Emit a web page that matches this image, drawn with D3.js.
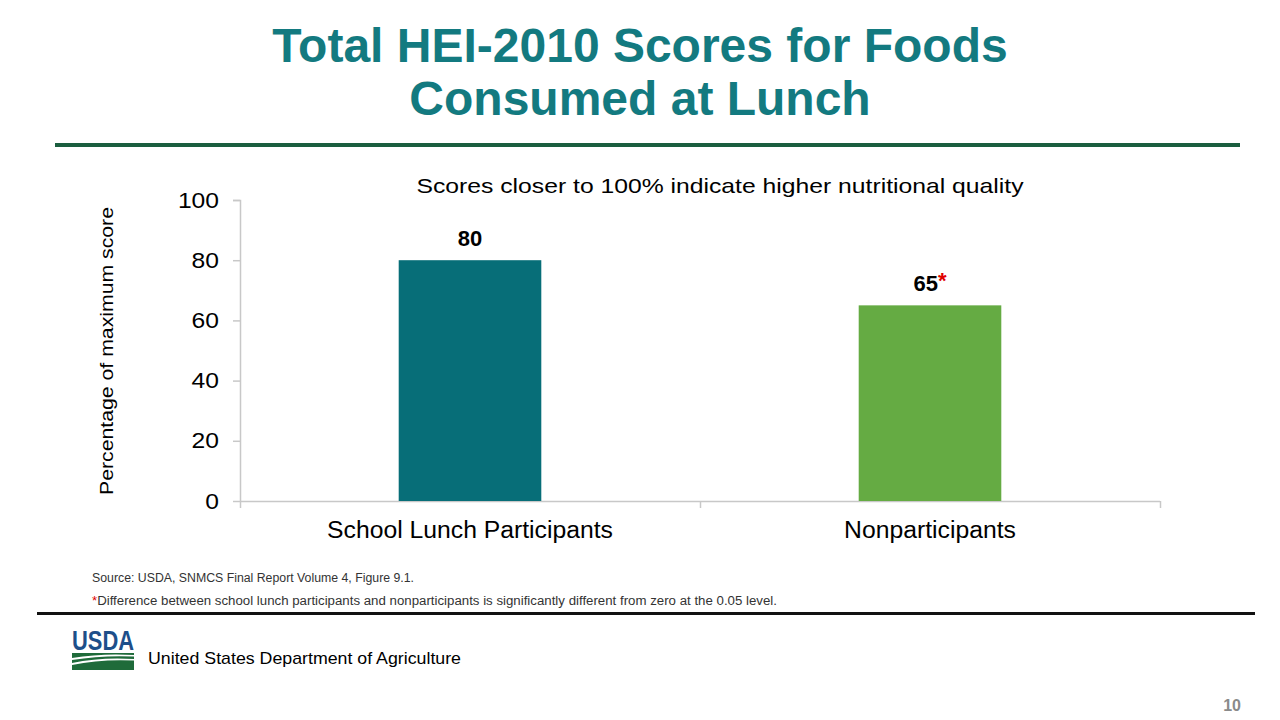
<!DOCTYPE html>
<html>
<head>
<meta charset="utf-8">
<script src="https://cdn.jsdelivr.net/npm/d3@7"></script>
<style>
  body { margin: 0; background: #fff; }
  svg { font-family: Arial, "Liberation Sans", sans-serif; }
</style>
</head>
<body>
<svg class="chart" width="1280" height="720"></svg>
<script>
// Datos
var categories = ["School Lunch Participants", "Nonparticipants"];
var values = [80, 65];
var significant = [false, true];
var barColors = ["#076e78", "#65ab43"];
var yTicks = [0, 20, 40, 60, 80, 100];

var svg = d3.select(".chart");

// estira el texto en horizontal (la diapositiva original está ensanchada)
function stretch(sel, w) {
  sel.attr("textLength", w).attr("lengthAdjust", "spacingAndGlyphs");
}
function stretchBy(sel, k) {
  sel.each(function() {
    var t = d3.select(this);
    t.attr("textLength", this.getComputedTextLength() * k).attr("lengthAdjust", "spacingAndGlyphs");
  });
}

// Título
var title = svg.append("text")
    .attr("text-anchor", "middle")
    .attr("fill", "#137a80")
    .attr("font-weight", "bold")
    .attr("font-size", 48);
title.append("tspan").attr("x", 640).attr("y", 62).text("Total HEI-2010 Scores for Foods");
title.append("tspan").attr("x", 640).attr("y", 115).text("Consumed at Lunch");

svg.append("rect")
    .attr("x", 55).attr("y", 143).attr("width", 1185).attr("height", 4)
    .attr("fill", "#1b5e3f");

// Área del gráfico
var x = d3.scaleBand()
    .domain(categories)
    .range([240, 1160])
    .paddingInner(0.69)
    .paddingOuter(0.345);

var y = d3.scaleLinear()
    .domain([0, 100])
    .range([501, 200]);

svg.append("text")
    .attr("x", 720).attr("y", 193)
    .attr("text-anchor", "middle")
    .attr("font-size", 21)
    .attr("fill", "#000")
    .text("Scores closer to 100% indicate higher nutritional quality")
    .call(stretch, 607);

// Eje Y
var yAxis = svg.append("g")
    .attr("transform", "translate(240,0)")
    .call(d3.axisLeft(y).tickValues(yTicks).tickSize(7).tickPadding(14));
yAxis.selectAll("text")
    .attr("font-size", 22).attr("fill", "#000")
    .attr("font-family", "Arial, 'Liberation Sans', sans-serif")
    .call(stretchBy, 1.12);

// Eje X (ticks en bordes de categorías)
var xb = d3.scalePoint().domain([0, 1, 2]).range([240, 1160]);
var xAxis = svg.append("g")
    .attr("transform", "translate(0,501)")
    .call(d3.axisBottom(xb).tickSize(7).tickFormat(""));
svg.selectAll(".domain, .tick line").attr("stroke", "#c8c8c8").attr("stroke-width", 1.5);
yAxis.select(".domain").attr("d", "M-7,200.5H0.5V501.5");
xAxis.select(".domain").attr("d", "M240,0.5H1160");

svg.selectAll(".xlab")
    .data(categories)
  .enter().append("text")
    .attr("class", "xlab")
    .attr("x", function(d) { return x(d) + x.bandwidth() / 2; })
    .attr("y", 538)
    .attr("text-anchor", "middle")
    .attr("font-size", 23)
    .attr("fill", "#000")
    .text(function(d) { return d; })
    .call(stretchBy, 1.075);

// Barras
svg.selectAll(".bar")
    .data(values)
  .enter().append("rect")
    .attr("class", "bar")
    .attr("x", function(d, i) { return x(categories[i]); })
    .attr("width", x.bandwidth())
    .attr("y", function(d) { return y(d); })
    .attr("height", function(d) { return y(0) - y(d); })
    .attr("fill", function(d, i) { return barColors[i]; });

var labels = svg.selectAll(".val")
    .data(values)
  .enter().append("text")
    .attr("class", "val")
    .attr("x", function(d, i) { return x(categories[i]) + x.bandwidth() / 2; })
    .attr("y", function(d) { return y(d) - 14; })
    .attr("text-anchor", "middle")
    .attr("font-size", 22)
    .attr("font-weight", "bold")
    .attr("fill", "#000");
labels.append("tspan").text(function(d) { return d; });
labels.append("tspan")
    .attr("fill", "#e00000")
    .attr("dy", -3)
    .text(function(d, i) { return significant[i] ? "*" : ""; });

// Título eje Y
svg.append("text")
    .attr("transform", "translate(113,351) rotate(-90)")
    .attr("text-anchor", "middle")
    .attr("font-size", 18)
    .attr("fill", "#000")
    .text("Percentage of maximum score")
    .call(stretch, 288);

// Notas
svg.append("text")
    .attr("x", 92).attr("y", 582)
    .attr("font-size", 12.5)
    .attr("fill", "#333")
    .text("Source: USDA, SNMCS Final Report Volume 4, Figure 9.1.")
    .call(stretch, 322);
var note = svg.append("text")
    .attr("x", 92).attr("y", 605)
    .attr("font-size", 12.5)
    .attr("fill", "#333")
    .call(stretch, 685);
note.append("tspan").attr("fill", "#e00000").text("*");
note.append("tspan").text("Difference between school lunch participants and nonparticipants is significantly different from zero at the 0.05 level.");

svg.append("rect")
    .attr("x", 37).attr("y", 612).attr("width", 1218).attr("height", 3)
    .attr("fill", "#111");

// Logo USDA
var logo = svg.append("g").attr("transform", "translate(72,628)");
logo.append("text")
    .attr("x", 0).attr("y", 22)
    .attr("font-size", 28)
    .attr("font-weight", "bold")
    .attr("fill", "#1d4f8a")
    .text("USDA")
    .call(stretch, 62);
logo.append("rect").attr("x", 0).attr("y", 25).attr("width", 62).attr("height", 17).attr("fill", "#1f6b3a");
logo.append("path")
    .attr("d", "M0,30 Q30,25 62,27 L62,28.5 Q30,27 0,32 Z")
    .attr("fill", "#fff");
logo.append("path")
    .attr("d", "M0,35 Q28,29 62,31 L62,32.5 Q28,31 0,37 Z")
    .attr("fill", "#fff");

svg.append("text")
    .attr("x", 148).attr("y", 664)
    .attr("font-size", 17)
    .attr("fill", "#000")
    .text("United States Department of Agriculture")
    .call(stretch, 313);

svg.append("text")
    .attr("x", 1241).attr("y", 711)
    .attr("text-anchor", "end")
    .attr("font-size", 16)
    .attr("font-weight", "bold")
    .attr("fill", "#8a8a8a")
    .text("10");
</script>
</body>
</html>
